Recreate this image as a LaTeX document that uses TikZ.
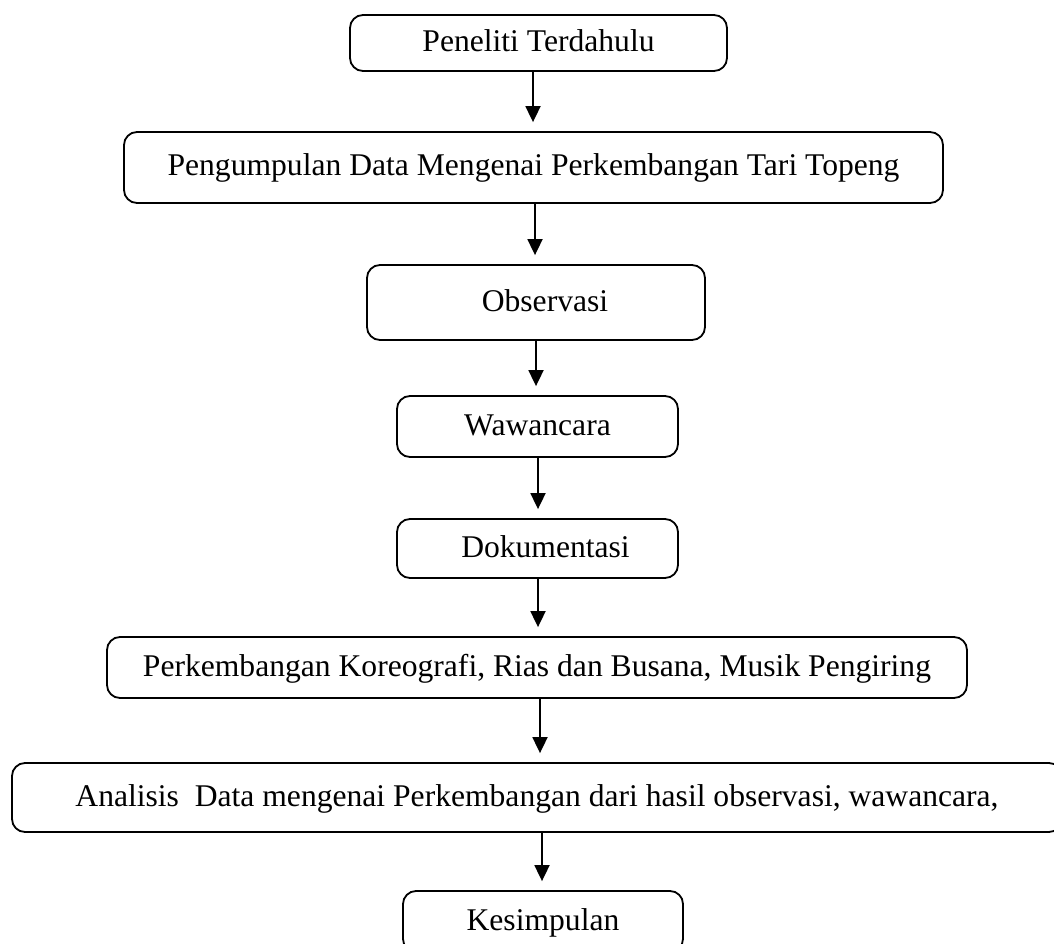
\documentclass[tikz,border=0pt]{standalone}
\usepackage{fontspec}
\setmainfont{Liberation Serif}
\usetikzlibrary{arrows.meta}
\tikzset{
  flowbox/.style={draw, line width=1.8pt, rounded corners=13pt, inner sep=0pt,
    font=\fontsize{31.6}{38}\selectfont, text height=23pt, text depth=6pt, anchor=center},
  arr/.style={line width=1.8pt, -{Triangle[width=15pt,length=16pt]}, shorten >=9pt}
}
\begin{document}
\begin{tikzpicture}[x=1pt,y=-1pt]
\useasboundingbox (0,0) rectangle (1054,944);
\clip (0,0) rectangle (1054,944);
\node[flowbox, minimum width=377pt, minimum height=56pt] (b1) at (538.5,43) {Peneliti Terdahulu};
\node[flowbox, minimum width=819pt, minimum height=71pt] (b2) at (533.5,167.5) {Pengumpulan Data Mengenai Perkembangan Tari Topeng};
\node[flowbox, minimum width=338pt, minimum height=75pt] (b3) at (536,302.5) {\hspace*{18pt}Observasi};
\node[flowbox, minimum width=281pt, minimum height=61pt] (b4) at (537.5,426.5) {Wawancara};
\node[flowbox, minimum width=281pt, minimum height=59pt] (b5) at (537.5,548.5) {\hspace*{16pt}Dokumentasi};
\node[flowbox, minimum width=860pt, minimum height=61pt] (b6) at (537,667.5) {Perkembangan Koreografi, Rias dan Busana, Musik Pengiring};
\node[flowbox, minimum width=1050pt, minimum height=69pt] (b7) at (537,797.5) {Analisis\ \ Data mengenai Perkembangan dari hasil observasi, wawancara,};
\node[flowbox, minimum width=280pt, minimum height=61pt] (b8) at (543,921.5) {Kesimpulan};
\coordinate (x1) at (533,0);
\coordinate (x2) at (535,0);
\coordinate (x3) at (536,0);
\coordinate (x4) at (538,0);
\coordinate (x5) at (538,0);
\coordinate (x6) at (540,0);
\coordinate (x7) at (542,0);
\draw[arr] (b1.south -| x1) -- (b2.north -| x1);
\draw[arr] (b2.south -| x2) -- (b3.north -| x2);
\draw[arr] (b3.south -| x3) -- (b4.north -| x3);
\draw[arr] (b4.south -| x4) -- (b5.north -| x4);
\draw[arr] (b5.south -| x5) -- (b6.north -| x5);
\draw[arr] (b6.south -| x6) -- (b7.north -| x6);
\draw[arr] (b7.south -| x7) -- (b8.north -| x7);
\end{tikzpicture}
\end{document}
